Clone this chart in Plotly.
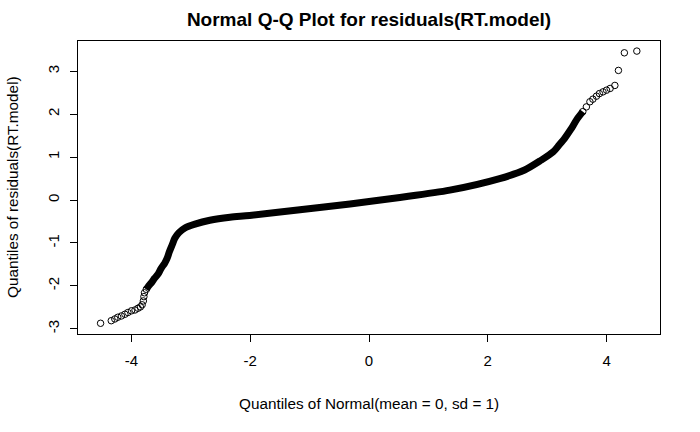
import plotly.graph_objects as go

# Dense central band of the Q-Q curve (theoretical quantile, sample quantile)
body_x = [-3.75, -3.71, -3.66, -3.61, -3.55, -3.50, -3.44, -3.40, -3.36, -3.31, -3.27, -3.20,
          -3.10, -2.93, -2.68, -2.34, -2.01, -1.20, -0.32, 0.52, 1.36, 2.20, 2.62,
          2.90, 3.10, 3.20, 3.30, 3.40, 3.50, 3.60]
body_y = [-2.08, -2.00, -1.92, -1.82, -1.72, -1.59, -1.47, -1.36, -1.20, -1.03, -0.89, -0.76,
          -0.65, -0.56, -0.47, -0.40, -0.36, -0.23, -0.09, 0.06, 0.23, 0.50, 0.70,
          0.93, 1.12, 1.28, 1.45, 1.65, 1.88, 2.06]

# Individually visible points in the tails
low_x = [-4.52, -4.34, -4.28, -4.23, -4.17, -4.11, -4.06, -4.00, -3.94, -3.89, -3.85, -3.82,
         -3.80, -3.79, -3.78, -3.75]
low_y = [-2.87, -2.81, -2.77, -2.73, -2.70, -2.66, -2.62, -2.58, -2.56, -2.52, -2.49, -2.44,
         -2.35, -2.25, -2.16, -2.08]
high_x = [3.60, 3.66, 3.72, 3.77, 3.83, 3.88, 3.94, 4.00, 4.06, 4.14, 4.20, 4.30, 4.51]
high_y = [2.06, 2.17, 2.29, 2.35, 2.42, 2.48, 2.52, 2.56, 2.60, 2.67, 3.02, 3.43, 3.47]

x_ticks = [-4, -2, 0, 2, 4]
y_ticks = [-3, -2, -1, 0, 1, 2, 3]

title_text = "Normal Q-Q Plot for residuals(RT.model)"
x_title = "Quantiles of Normal(mean = 0, sd = 1)"
y_title = "Quantiles of residuals(RT.model)"

FONT = "Arial, Liberation Sans, sans-serif"
W, H = 700, 432

fig = go.Figure()
fig.add_trace(go.Scatter(x=body_x, y=body_y, mode="lines",
                         line=dict(color="black", width=7, shape="spline", smoothing=0.8),
                         hoverinfo="skip", showlegend=False))
fig.add_trace(go.Scatter(x=low_x + high_x, y=low_y + high_y, mode="markers",
                         marker=dict(symbol="circle-open", size=6.5, color="black",
                                     line=dict(width=1, color="black")),
                         showlegend=False))

axis_common = dict(showgrid=False, zeroline=False, showline=True, mirror=True,
                   linecolor="black", linewidth=1, ticks="outside", ticklen=7,
                   tickcolor="black", tickwidth=1, automargin=False,
                   tickfont=dict(family=FONT, size=15, color="black"))

fig.update_layout(
    width=W, height=H, autosize=False,
    margin=dict(l=78, r=40, t=41, b=98),
    paper_bgcolor="white", plot_bgcolor="white",
    title=dict(text="<b>" + title_text + "</b>", x=369 / W, xanchor="center",
               y=1 - 19 / H, yanchor="middle", yref="container",
               font=dict(family=FONT, size=19, color="black")),
    xaxis=dict(range=[-4.9, 4.9], tickvals=x_ticks, ticktext=[str(v) for v in x_ticks],
               ticklabelstandoff=6, **axis_common),
    yaxis=dict(range=[-3.12, 3.705], tickvals=y_ticks, ticktext=[str(v) for v in y_ticks],
               tickangle=-90, ticklabelstandoff=5, **axis_common),
    annotations=[
        dict(text=x_title, xref="paper", yref="paper", x=0.5, y=0, xanchor="center",
             yanchor="middle", yshift=-69, showarrow=False,
             font=dict(family=FONT, size=15.3, color="black")),
        dict(text=y_title, xref="paper", yref="paper", x=0, y=0.5, xanchor="center",
             yanchor="middle", xshift=-65.5, textangle=-90, showarrow=False,
             font=dict(family=FONT, size=15.3, color="black")),
    ],
)

fig.write_html("out.html",
               config={"displayModeBar": False},
               post_script="document.body.style.margin='0';document.body.style.padding='0';")
